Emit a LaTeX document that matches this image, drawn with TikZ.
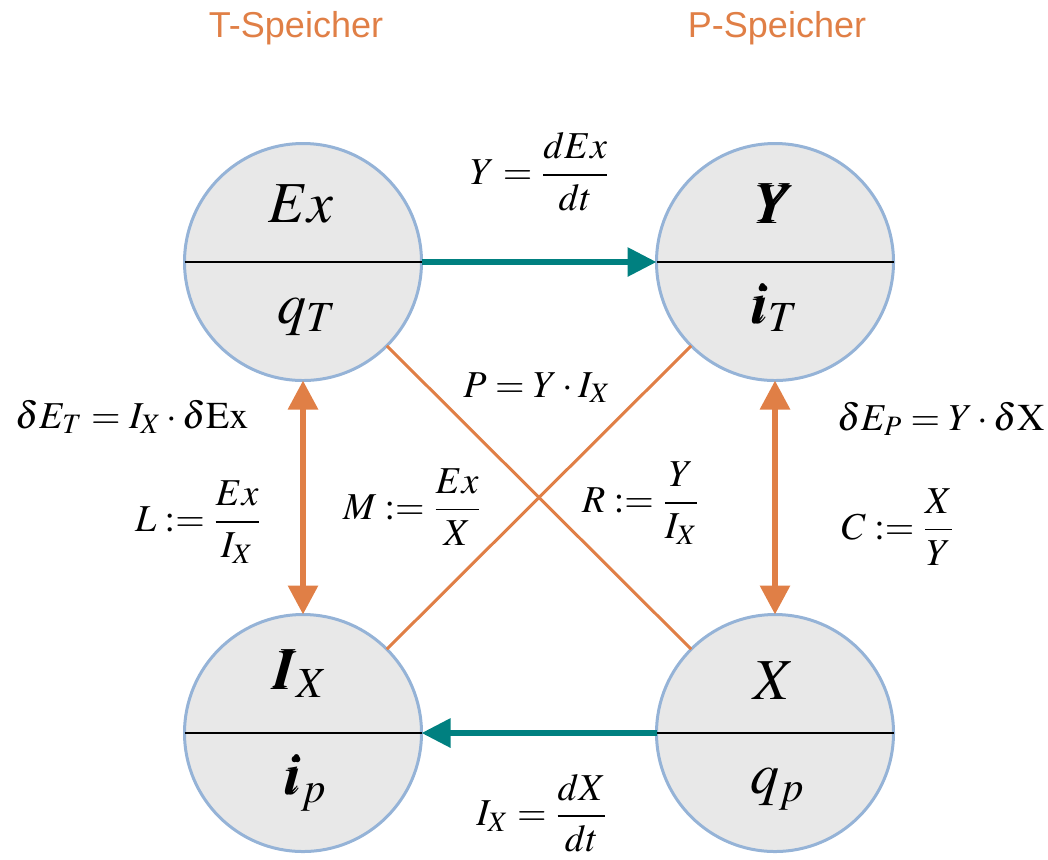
\documentclass[tikz,border=0pt]{standalone}
\usepackage{mathptmx}
\usepackage{bm}
\usepackage[no-math]{fontspec}
\newfontfamily\titlefont{Liberation Sans}
\usetikzlibrary{arrows.meta}
\definecolor{accent}{HTML}{E07F46}
\definecolor{flowteal}{HTML}{008080}
\definecolor{rim}{HTML}{95B3D7}
\definecolor{core}{HTML}{E8E8E8}
\tikzset{
  store/.style={
    circle,
    draw=rim,
    fill=core,
    line width=1.5pt,
    minimum size=118.5pt,
    inner sep=0pt,
    outer sep=0pt
  },
  divider/.style={
    draw=black,
    line width=1pt
  },
  flow/.style={
    -{Triangle[length=14.5pt,width=14pt]},
    draw=flowteal,
    line width=3pt
  },
  link/.style={
    {Triangle[length=14.5pt,width=14.5pt]}-{Triangle[length=14.5pt,width=14.5pt]},
    draw=accent,
    line width=3pt
  },
  cross/.style={
    draw=accent,
    line width=1.5pt
  },
  quantity/.style={
    font=\fontsize{29}{34}\selectfont,
    inner sep=0pt,
    anchor=base
  },
  relation/.style={
    font=\fontsize{19}{23}\selectfont,
    inner sep=0pt
  },
  heading/.style={
    font=\titlefont\fontsize{18}{22}\selectfont,
    text=accent,
    inner sep=0pt,
    anchor=base
  }
}

\begin{document}
\begin{tikzpicture}[x=0.5pt,y=-0.5pt]
  \useasboundingbox (0,0) rectangle (1048,859);

  \node[heading] (t-store) at (296,37) {T-Speicher};
  \node[heading] (p-store) at (777,37) {P-Speicher};

  \node[store] (ex) at (303,262) {};
  \node[store] (y) at (775,262) {};
  \node[store] (ix) at (303,733) {};
  \node[store] (x) at (775,733) {};

  \draw[divider] (ex.west) -- (ex.east);
  \draw[divider] (y.west) -- (y.east);
  \draw[divider] (ix.west) -- (ix.east);
  \draw[divider] (x.west) -- (x.east);

  \node[quantity] (ex-top) at (301,222) {$Ex$};
  \node[quantity] (ex-bot) at (307,323) {$q_T$};
  \node[quantity] (y-top) at (775,223) {$\bm{Y}$};
  \node[quantity] (y-bot) at (774,323) {$\bm{i}_T$};
  \node[quantity] (ix-top) at (300,689) {$\bm{I}_X$};
  \node[quantity] (ix-bot) at (305,794) {$\bm{i}_p$};
  \node[quantity] (x-top) at (774,699) {$X$};
  \node[quantity] (x-bot) at (778,793) {$q_p$};

  \draw[flow] (ex.east) -- (y.west);
  \draw[flow] (x.west) -- (ix.east);
  \draw[link] (ex.south) -- (ix.north);
  \draw[link] (y.south) -- (x.north);
  \draw[cross] (ex.-45) -- (x.135);
  \draw[cross] (y.-135) -- (ix.45);

  \node[relation] (power-rate) at (540,172)
    {$\displaystyle Y = \frac{dEx}{dt}$};
  \node[relation] (flow-rate) at (542,813)
    {$\displaystyle I_X = \frac{dX}{dt}$};
  \node[relation,anchor=base] (energy-t) at (132,428)
    {$\delta E_T = I_X \cdot \delta\mathrm{Ex}$};
  \node[relation,anchor=base] (energy-p) at (941,430)
    {$\delta E_P = Y \cdot \delta\mathrm{X}$};
  \node[relation,anchor=base] (power) at (537,397)
    {$P = Y \cdot I_X$};
  \node[relation] (induct) at (198,522)
    {$\displaystyle L \mathrel{:=} \frac{Ex}{I_X}$};
  \node[relation] (memr) at (412,507)
    {$\displaystyle M \mathrel{:=} \frac{Ex}{X}$};
  \node[relation] (resist) at (641,503)
    {$\displaystyle R \mathrel{:=} \frac{Y}{I_X}$};
  \node[relation] (capac) at (898,527)
    {$\displaystyle C \mathrel{:=} \frac{X}{Y}$};
\end{tikzpicture}
\end{document}
